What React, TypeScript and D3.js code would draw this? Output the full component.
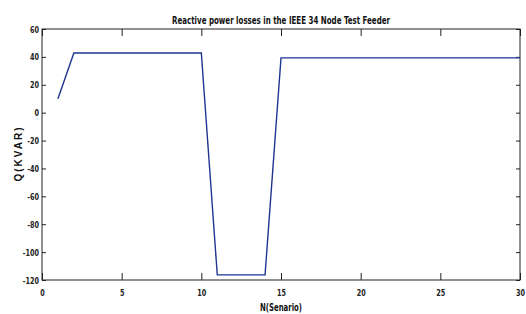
import React, { useEffect, useRef } from 'react';
import * as d3 from 'd3';

const scenarios = [1, 2, 3, 4, 5, 6, 7, 8, 9, 10, 11, 12, 13, 14, 15, 16, 17, 18, 19, 20, 21, 22, 23, 24, 25, 26, 27, 28, 29, 30];
const qLoss = [10, 42.8, 42.8, 42.8, 42.8, 42.8, 42.8, 42.8, 42.8, 42.8, -116.3, -116.3, -116.3, -116.3, 39.3, 39.3, 39.3, 39.3, 39.3, 39.3, 39.3, 39.3, 39.3, 39.3, 39.3, 39.3, 39.3, 39.3, 39.3, 39.3];
const xTicks = [0, 5, 10, 15, 20, 25, 30];
const yTicks = [-120, -100, -80, -60, -40, -20, 0, 20, 40, 60];

const W = 526, H = 314;
const m = { left: 42, right: 6, top: 29, bottom: 34 };
const font = '"DejaVu Sans Condensed", "Liberation Sans Narrow", sans-serif';

const App = () => {
  const svgRef = useRef<SVGSVGElement>(null);

  useEffect(() => {
    const svg = d3.select(svgRef.current);
    svg.selectAll('*').remove();
    const iw = W - m.left - m.right;
    const ih = H - m.top - m.bottom;

    const x = d3.scaleLinear().domain([0, 30]).range([m.left, m.left + iw]);
    const y = d3.scaleLinear().domain([-120, 60]).range([m.top + ih, m.top]);

    // box
    svg.append('rect')
      .attr('x', m.left).attr('y', m.top).attr('width', iw).attr('height', ih)
      .attr('fill', 'white').attr('stroke', '#222').attr('stroke-width', 1);

    const sx = 0.76;
    const styleAxis = (g) => {
      g.select('.domain').remove();
      g.selectAll('line').attr('stroke', '#222');
      g.selectAll('text').attr('font-family', font).attr('font-weight', 'bold')
        .attr('font-size', 9.5).attr('fill', '#222')
        .attr('transform', function () {
          // squeeze tick labels horizontally to mimic the narrow face
          const t = this as SVGTextElement;
          const ax = +(t.getAttribute('x') || 0);
          return `translate(${ax * (1 - sx)},0) scale(${sx},1)`;
        });
    };

    svg.append('g').attr('transform', `translate(0,${m.top + ih})`)
      .call(d3.axisBottom(x).tickValues(xTicks).tickSize(-7).tickPadding(9).tickFormat(d => String(d)))
      .call(styleAxis);
    svg.append('g').attr('transform', `translate(0,${m.top})`)
      .call(d3.axisTop(x).tickValues(xTicks).tickSize(-7).tickFormat(() => ''))
      .call(styleAxis);
    svg.append('g').attr('transform', `translate(${m.left},0)`)
      .call(d3.axisLeft(y).tickValues(yTicks).tickSize(-4).tickPadding(3).tickFormat(d => String(d)))
      .call(styleAxis);
    svg.append('g').attr('transform', `translate(${m.left + iw},0)`)
      .call(d3.axisRight(y).tickValues(yTicks).tickSize(-4).tickFormat(() => ''))
      .call(styleAxis);

    const line = d3.line<number>().x((d, i) => x(scenarios[i])).y(d => y(d));
    svg.append('path').datum(qLoss)
      .attr('d', line).attr('fill', 'none')
      .attr('stroke', '#1f3591').attr('stroke-width', 1.4);

    svg.append('text').attr('x', m.left + iw / 2).attr('y', 24)
      .attr('text-anchor', 'middle').attr('font-family', font).attr('font-weight', 'bold')
      .attr('font-size', 10).attr('fill', '#111')
      .attr('textLength', 218).attr('lengthAdjust', 'spacingAndGlyphs')
      .text('Reactive power losses in the IEEE 34 Node Test Feeder');
    svg.append('text').attr('x', m.left + iw / 2).attr('y', 311)
      .attr('text-anchor', 'middle').attr('font-family', font).attr('font-weight', 'bold')
      .attr('font-size', 10).attr('fill', '#111')
      .attr('textLength', 42).attr('lengthAdjust', 'spacingAndGlyphs')
      .text('N(Senario)');
    svg.append('text').attr('transform', `translate(22,${m.top + ih / 2}) rotate(-90)`)
      .attr('text-anchor', 'middle').attr('font-family', '"Liberation Sans", Arial, sans-serif')
      .attr('font-weight', 'bold').attr('font-size', 10).attr('fill', '#111')
      .attr('textLength', 54).attr('lengthAdjust', 'spacing')
      .text('Q(KVAR)');
  }, []);

  return (
    <svg ref={svgRef} width={W} height={H}
      style={{ position: 'absolute', left: 0, top: 0, background: 'white' }} />
  );
};

export default App;
